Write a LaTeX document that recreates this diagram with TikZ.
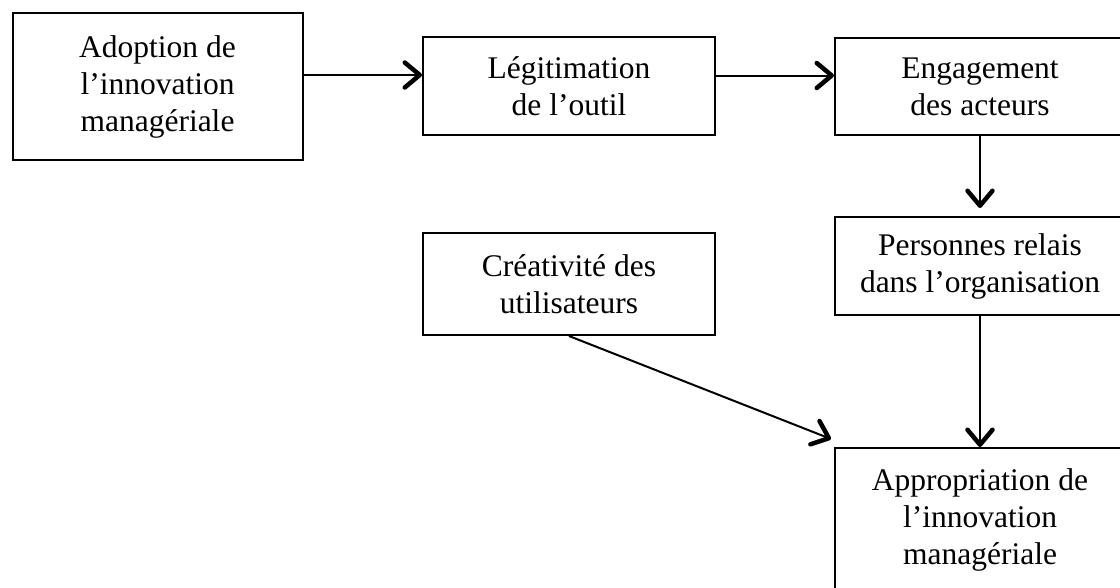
\documentclass[tikz,border=0pt]{standalone}
\usepackage{fontspec}
\setmainfont{Liberation Serif}
\usetikzlibrary{arrows.meta}
\begin{document}
\begin{tikzpicture}[x=1pt,y=1pt,
  box/.style={draw, line width=2pt, align=center, inner sep=0pt,
    font=\fontsize{31.5}{37}\selectfont},
  conn/.style={line width=2pt, -{Straight Barb[length=15pt,width=25pt,line width=4.5pt,round]}}]
\useasboundingbox (0,0) rectangle (1120,-587);
\node[box, minimum width=290pt, minimum height=147pt] (adopt) at (157.5,-86.5) {Adoption de\\l’innovation\\managériale};
\node[box, minimum width=292pt, minimum height=98pt] (leg) at (569,-86) {Légitimation\\de l’outil};
\node[box, minimum width=290pt, minimum height=97pt] (eng) at (980,-86.5) {Engagement\\des acteurs};
\node[box, minimum width=290pt, minimum height=98pt] (pers) at (980,-266) {Personnes relais\\dans l’organisation};
\node[box, minimum width=292pt, minimum height=102pt] (crea) at (569,-284) {Créativité des\\utilisateurs};
\node[box, minimum width=290pt, minimum height=144pt] (app) at (980,-520) {Appropriation de\\l’innovation\\managériale};
\coordinate (t1) at ([yshift=11pt]leg.west);
\coordinate (t2) at ([yshift=11pt]eng.west);
\coordinate (t5) at ([shift={(-3pt,8pt)}]app.north west);
\draw[conn] (adopt.east |- t1) -- (t1);
\draw[conn] (leg.east |- t2) -- (t2);
\draw[conn] (eng.south) -- ([yshift=8pt]pers.north);
\draw[conn] (pers.south) -- (app.north);
\draw[conn] (crea.south) -- (t5);
\end{tikzpicture}
\end{document}
